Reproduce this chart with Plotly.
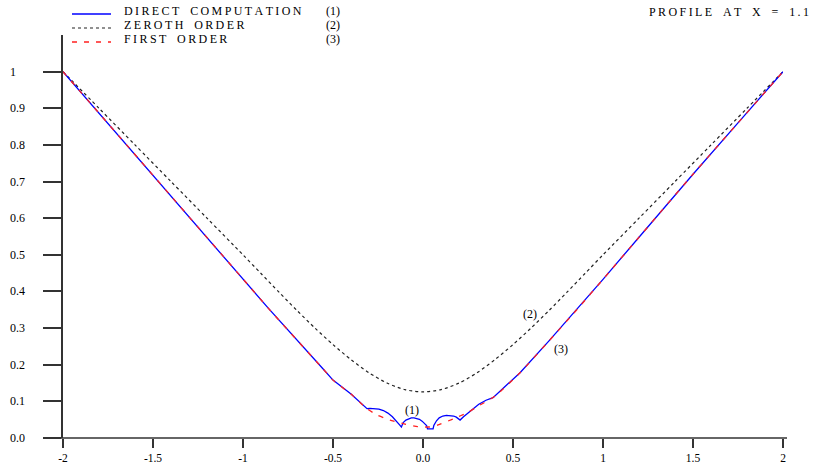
import plotly.graph_objects as go

# ---- data ----
direct_x = [-2.0, -1.5, -1.0, -0.861, -0.556, -0.5, -0.4, -0.311, -0.295, -0.27, -0.245, -0.22, -0.195, -0.17,
            -0.15, -0.13, -0.12,
            -0.11, -0.095, -0.08, -0.065, -0.05, -0.035, -0.02, -0.005, 0.008, 0.02, 0.025, 0.056,
            0.06, 0.075, 0.09, 0.11, 0.13, 0.15, 0.17, 0.185, 0.197, 0.206,
            0.225, 0.25, 0.278, 0.31, 0.35, 0.389, 0.45, 0.539, 0.7, 0.872, 1.0, 1.2, 1.5, 1.75, 2.0]
direct_y = [1.0, 0.717, 0.434, 0.355, 0.189, 0.158, 0.12, 0.080, 0.081, 0.081, 0.079, 0.075, 0.068, 0.058,
            0.048, 0.036, 0.030,
            0.042, 0.049, 0.053, 0.055, 0.055, 0.054, 0.051, 0.046, 0.040, 0.034, 0.025, 0.025,
            0.034, 0.047, 0.055, 0.060, 0.062, 0.062, 0.060, 0.057, 0.053, 0.049,
            0.058, 0.068, 0.079, 0.092, 0.103, 0.110, 0.138, 0.178, 0.265, 0.360, 0.433, 0.548, 0.720, 0.860, 1.0]

zeroth_x = [-2.0, -1.8, -1.6, -1.4, -1.2, -1.0, -0.9, -0.8, -0.7, -0.6, -0.5, -0.4, -0.3, -0.2, -0.1, 0.0,
            0.1, 0.2, 0.3, 0.4, 0.5, 0.6, 0.7, 0.8, 0.9, 1.0, 1.2, 1.4, 1.6, 1.8, 2.0]
zeroth_y = [1.0, 0.900, 0.800, 0.700, 0.600, 0.500, 0.449, 0.398, 0.348, 0.300, 0.255, 0.214, 0.178, 0.150, 0.132, 0.126,
            0.132, 0.150, 0.178, 0.214, 0.255, 0.300, 0.348, 0.398, 0.449, 0.500, 0.600, 0.700, 0.800, 0.900, 1.0]

first_x = [-2.0, -1.5, -1.0, -0.861, -0.556, -0.5, -0.4, -0.311, -0.256, -0.183, -0.1, -0.03, 0.03,
           0.08, 0.167, 0.25, 0.317, 0.4, 0.539, 0.7, 0.872, 1.0, 1.2, 1.5, 1.75, 2.0]
first_y = [1.0, 0.717, 0.434, 0.355, 0.189, 0.158, 0.12, 0.080, 0.063, 0.049, 0.038, 0.031, 0.030,
           0.035, 0.052, 0.070, 0.090, 0.114, 0.178, 0.265, 0.360, 0.433, 0.548, 0.720, 0.860, 1.0]

x_ticks = [-2, -1.5, -1, -0.5, 0, 0.5, 1, 1.5, 2]
x_tick_labels = ["-2", "-1.5", "-1", "-0.5", "0.0", "0.5", "1", "1.5", "2"]
y_ticks = [0, 0.1, 0.2, 0.3, 0.4, 0.5, 0.6, 0.7, 0.8, 0.9, 1.0]
y_tick_labels = ["0.0", "0.1", "0.2", "0.3", "0.4", "0.5", "0.6", "0.7", "0.8", "0.9", "1"]

legend_names = ["DIRECT COMPUTATION", "ZEROTH ORDER", "FIRST ORDER"]
legend_ids = ["(1)", "(2)", "(3)"]
title_text = "PROFILE AT X = 1.1"

FONT = "Times New Roman, Liberation Serif, serif"
W, H = 813, 464
# plot area in page pixels: x 63..783, y 35..438
L, T = 63, 35
R = W - 783
B = H - 438
PW = W - L - R
PH = H - T - B


def spaced(s):
    # emulate the wide letter spacing of the original typesetting
    return "\u2009".join(s.replace(" ", "\u2002"))


fig = go.Figure()
fig.add_trace(go.Scatter(x=zeroth_x, y=zeroth_y, mode="lines",
                         line=dict(color="#222", width=1.2, dash="dot", shape="spline", smoothing=0.8),
                         name=legend_names[1]))
fig.add_trace(go.Scatter(x=direct_x, y=direct_y, mode="lines",
                         line=dict(color="#0000ff", width=1.3), name=legend_names[0]))
fig.add_trace(go.Scatter(x=first_x, y=first_y, mode="lines",
                         line=dict(color="#ff2020", width=1.3, dash="5px,7px", shape="spline", smoothing=0.5),
                         name=legend_names[2]))


def px2paper_x(p):
    return (p - L) / PW


def px2paper_y(p):
    return (H - B - p) / PH


shapes = []
# x axis line (extends past the y axis)
shapes.append(dict(type="line", xref="paper", yref="paper", x0=px2paper_x(46), x1=px2paper_x(787), y0=0, y1=0,
                   line=dict(color="#333", width=1.5)))
# legend samples
leg_y = [14, 28, 42]
styles = [dict(color="#0000ff", width=1.3), dict(color="#222", width=1.2, dash="dot"),
          dict(color="#ff2020", width=1.3, dash="5px,7px")]
for yy, st in zip(leg_y, styles):
    shapes.append(dict(type="line", xref="paper", yref="paper", x0=px2paper_x(72), x1=px2paper_x(111),
                       y0=px2paper_y(yy), y1=px2paper_y(yy), line=st))

annotations = []
for yy, name, lid in zip([11, 25, 39], legend_names, legend_ids):
    annotations.append(dict(xref="paper", yref="paper", x=px2paper_x(122), y=px2paper_y(yy), text=spaced(name),
                            showarrow=False, xanchor="left", yanchor="middle",
                            font=dict(family=FONT, size=12, color="#000")))
    annotations.append(dict(xref="paper", yref="paper", x=px2paper_x(324), y=px2paper_y(yy), text=lid,
                            showarrow=False, xanchor="left", yanchor="middle",
                            font=dict(family=FONT, size=12, color="#000")))
annotations.append(dict(xref="paper", yref="paper", x=px2paper_x(811), y=px2paper_y(12), text=spaced(title_text),
                        showarrow=False, xanchor="right", yanchor="middle",
                        font=dict(family=FONT, size=12, color="#000")))
# y tick labels, left aligned
for v, lab in zip(y_ticks, y_tick_labels):
    annotations.append(dict(xref="paper", yref="y", x=px2paper_x(8), y=v, text=lab, showarrow=False,
                            xanchor="left", yanchor="middle", font=dict(family=FONT, size=12, color="#000")))
# curve labels
for (ax, ay, t) in [(-0.061, 0.077, "(1)"), (0.594, 0.339, "(2)"), (0.767, 0.243, "(3)")]:
    annotations.append(dict(x=ax, y=ay, text=t, showarrow=False, font=dict(family=FONT, size=12, color="#000")))

fig.update_layout(
    width=W, height=H,
    margin=dict(l=L, r=R, t=T, b=B, autoexpand=False),
    plot_bgcolor="white", paper_bgcolor="white",
    showlegend=False,
    shapes=shapes, annotations=annotations,
    font=dict(family=FONT, size=12, color="#000"),
)
fig.update_xaxes(range=[-2, 2], tickvals=x_ticks, ticktext=x_tick_labels, ticks="outside", ticklen=9,
                 tickwidth=1.5, tickcolor="#333", showgrid=False, zeroline=False, showline=False,
                 automargin=False, tickfont=dict(family=FONT, size=11.5, color="#000"))
fig.update_yaxes(range=[0, 1.1], tickvals=y_ticks, showticklabels=False, ticks="outside", ticklen=18,
                 tickwidth=1.5, tickcolor="#333", showgrid=False, zeroline=False, showline=True,
                 automargin=False, linecolor="#333", linewidth=1.5)

# remove the browser's default 8px page margin so the figure sits at the window's corner
fig.write_html("out.html", config={"displayModeBar": False},
               post_script="document.body.style.margin='0';document.body.style.overflow='hidden';")
